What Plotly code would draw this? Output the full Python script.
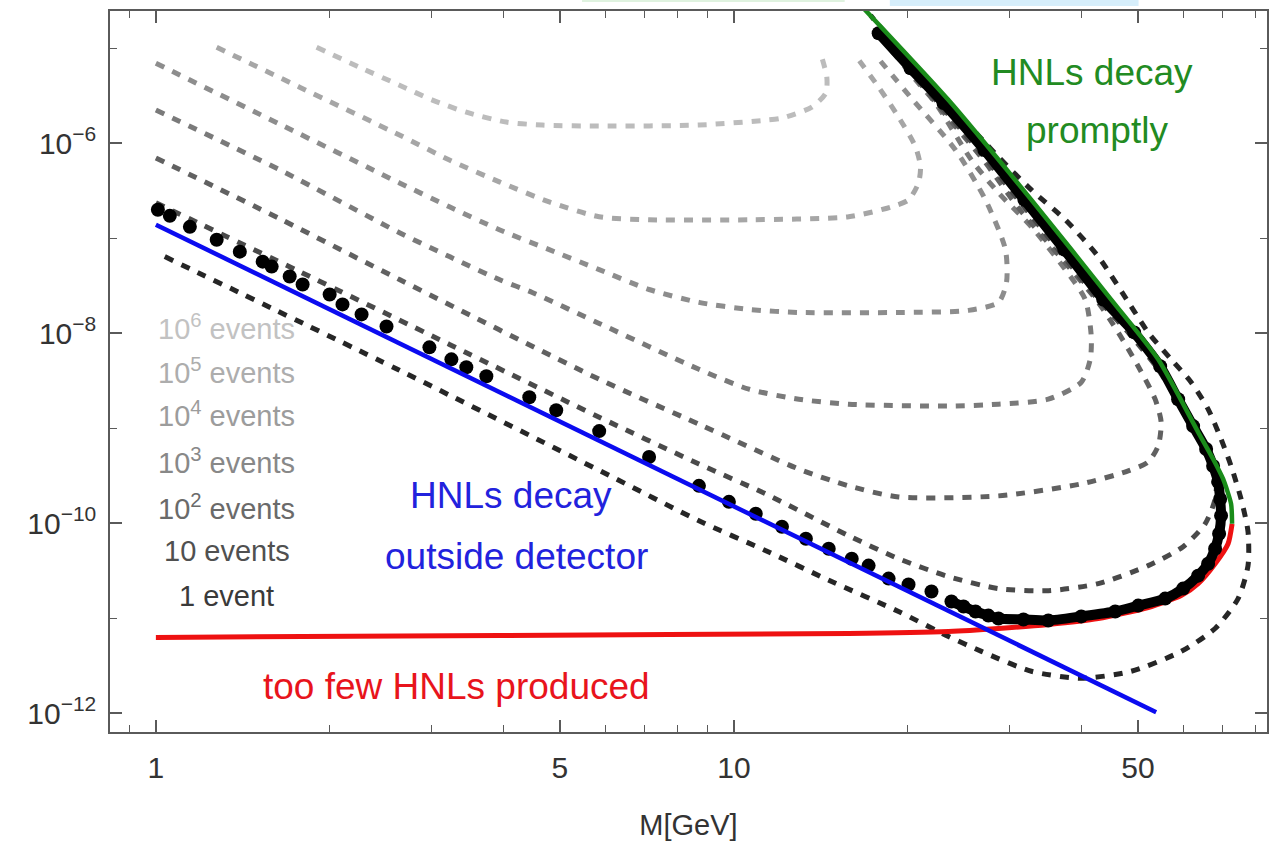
import plotly.graph_objects as go

# ---------------- data (M in GeV, U^2) ----------------
blue_M = [1.0, 53.77]
blue_U2 = [1.38e-7, 1.02e-12]

red_M = [1.0, 3.928, 15.80, 23.51, 28.69, 34.99, 42.69, 52.08, 59.39, 63.55, 68.00, 71.61, 72.76]
red_U2 = [6.25e-12, 6.55e-12, 6.88e-12, 7.22e-12, 7.76e-12, 8.55e-12, 9.88e-12, 1.29e-11,
          1.72e-11, 2.30e-11, 3.73e-11, 6.05e-11, 9.81e-11]

green_M = [72.76, 72.47, 70.20, 67.46, 63.55, 54.20, 44.95, 32.71, 23.51, 16.77]
green_U2 = [9.81e-11, 1.59e-10, 2.91e-10, 4.72e-10, 9.06e-10, 5.28e-9, 2.25e-8, 2.52e-7, 2.83e-6, 2.61e-5]

dots_M = [1.008, 1.057, 1.145, 1.274, 1.397, 1.530, 1.586, 1.704, 1.794, 1.998, 2.103, 2.269, 2.506,
          2.973, 3.245, 3.444, 3.730, 4.426, 4.927, 5.847, 7.133, 8.700, 9.803, 10.91, 12.11, 13.32,
          14.59, 15.99, 17.10, 18.52, 20.05, 21.97, 23.79, 24.96, 26.18, 27.56, 28.69, 31.69, 34.99,
          39.90, 45.67, 50.06, 55.73, 59.87, 63.55, 66.13, 68.00, 69.09, 69.64, 69.37, 68.82, 67.46,
          65.61, 62.30, 58.69, 54.63, 49.26, 43.55, 37.29, 31.81, 27.13, 23.05, 20.21, 17.80]
dots_U2 = [1.98e-7, 1.71e-7, 1.31e-7, 9.60e-8, 7.18e-8, 5.64e-8, 5.00e-8, 3.93e-8, 3.24e-8, 2.54e-8,
           2.00e-8, 1.57e-8, 1.17e-8, 7.06e-9, 5.28e-9, 4.36e-9, 3.50e-9, 2.11e-9, 1.54e-9, 9.28e-10,
           4.95e-10, 2.46e-10, 1.67e-10, 1.25e-10, 9.12e-11, 6.83e-11, 5.36e-11, 4.21e-11, 3.56e-11,
           2.60e-11, 2.25e-11, 1.90e-11, 1.49e-11, 1.32e-11, 1.17e-11, 1.06e-11, 9.88e-12, 9.65e-12,
           9.41e-12, 1.04e-11, 1.17e-11, 1.35e-11, 1.60e-11, 2.04e-11, 2.79e-11, 3.73e-11, 5.36e-11,
           7.70e-11, 1.19e-10, 1.79e-10, 2.71e-10, 3.98e-10, 6.01e-10, 1.047e-9, 2.01e-9, 4.46e-9,
           1.015e-8, 2.25e-8, 7.54e-8, 2.52e-7, 8.44e-7, 2.63e-6, 6.12e-6, 1.43e-5]

# event-number contours
ev1e6_M = [1.897, 2.251, 2.639, 3.009, 3.444, 4.039, 4.661, 5.847, 8.700, 11.36, 12.11, 13.64, 14.42, 14.48, 14.19]
ev1e6_U2 = [1.017e-5, 6.27e-6, 4.06e-6, 2.83e-6, 2.11e-6, 1.66e-6, 1.545e-6, 1.508e-6, 1.545e-6, 1.74e-6,
            1.83e-6, 2.39e-6, 3.35e-6, 4.93e-6, 7.99e-6]

ev1e5_M = [1.274, 1.773, 2.639, 3.220, 3.928, 4.792, 5.847, 7.133, 10.62, 15.80, 18.74, 20.05, 20.86,
           21.03, 20.62, 19.27, 17.80, 16.31]
ev1e5_U2 = [1.017e-5, 3.87e-6, 1.213e-6, 6.63e-7, 3.90e-7, 2.40e-7, 1.673e-7, 1.556e-7, 1.556e-7,
            1.673e-7, 2.13e-7, 2.52e-7, 3.80e-7, 5.60e-7, 9.08e-7, 1.875e-6, 3.87e-6, 7.99e-6]

ev1e4_M = [1.0, 1.638, 2.639, 3.220, 3.928, 4.792, 5.847, 7.133, 8.700, 10.62, 12.95, 19.27, 25.46,
           28.69, 29.62, 29.50, 27.24, 24.17, 20.21, 17.59]
ev1e4_U2 = [6.91e-6, 1.58e-6, 3.80e-7, 2.13e-7, 1.222e-7, 7.54e-8, 4.65e-8, 2.87e-8, 2.10e-8, 1.77e-8,
            1.645e-8, 1.645e-8, 1.73e-8, 2.10e-8, 3.40e-8, 7.54e-8, 2.52e-7, 8.44e-7, 3.04e-6, 8.38e-6]

ev1e3_M = [1.0, 1.638, 2.639, 3.220, 3.928, 4.479, 5.847, 8.700, 10.62, 12.95, 15.80, 23.51, 28.69,
           34.99, 39.90, 41.35, 41.52, 40.54, 37.44, 32.71, 28.69, 25.76, 22.33, 20.86, 18.30]
ev1e3_U2 = [2.22e-6, 5.21e-7, 1.137e-7, 6.37e-8, 3.65e-8, 2.67e-8, 1.261e-8, 4.15e-9, 2.56e-9, 2.01e-9,
            1.78e-9, 1.70e-9, 1.78e-9, 2.01e-9, 3.03e-9, 5.28e-9, 9.21e-9, 2.25e-8, 4.65e-8, 1.314e-7,
            2.99e-7, 6.63e-7, 2.63e-6, 4.26e-6, 1.12e-5]

ev1e2_M = [1.0, 1.638, 2.639, 5.847, 8.700, 12.95, 15.80, 19.27, 28.69, 39.90, 48.10, 52.08, 54.20,
           54.85, 53.55, 50.05, 46.22, 42.69, 36.41, 31.06, 27.02, 23.05, 18.74]
ev1e2_U2 = [6.96e-7, 1.594e-7, 3.65e-8, 3.26e-9, 1.099e-9, 3.70e-10, 2.46e-10, 1.88e-10, 1.93e-10,
            2.58e-10, 3.53e-10, 4.39e-10, 6.46e-10, 1.153e-9, 2.01e-9, 4.46e-9, 1.015e-8, 2.10e-8,
            6.68e-8, 2.08e-7, 6.63e-7, 2.11e-6, 9.93e-6]

ev10_M = [1.0, 1.773, 3.220, 5.847, 8.700, 11.36, 15.80, 19.27, 23.51, 28.69, 34.99, 42.69, 52.08,
          59.87, 65.35, 68.00, 68.27, 64.83, 61.07, 54.20, 48.10, 42.69, 36.41, 31.06, 26.49, 22.59, 18.16]
ev10_U2 = [2.35e-7, 4.43e-8, 7.59e-9, 1.30e-9, 4.18e-10, 2.02e-10, 7.34e-11, 4.21e-11, 2.73e-11,
           2.04e-11, 1.94e-11, 2.30e-11, 3.56e-11, 5.63e-11, 9.81e-11, 1.79e-10, 3.70e-10, 6.78e-10,
           1.24e-9, 4.15e-9, 1.015e-8, 2.25e-8, 7.54e-8, 2.52e-7, 8.44e-7, 2.63e-6, 1.264e-5]

ev1_M = [1.036, 2.639, 6.255, 8.700, 11.36, 14.76, 19.27, 23.51, 26.81, 32.71, 39.90, 48.68, 59.39,
         68.00, 74.52, 77.53, 77.53, 75.41, 72.47, 69.64, 66.13, 61.81, 57.08, 52.08, 48.68, 42.69,
         37.44, 32.71, 28.69, 23.51, 19.27, 17.24]
ev1_U2 = [6.37e-8, 4.05e-9, 2.91e-10, 1.054e-10, 5.11e-11, 2.42e-11, 1.17e-11, 6.39e-12, 4.45e-12,
          2.75e-12, 2.32e-12, 2.75e-12, 4.45e-12, 7.76e-12, 1.60e-11, 3.56e-11, 8.09e-11, 1.79e-10,
          3.98e-10, 7.65e-10, 1.58e-9, 3.03e-9, 5.28e-9, 1.015e-8, 1.90e-8, 6.37e-8, 1.556e-7, 3.21e-7,
          7.13e-7, 2.63e-6, 9.93e-6, 2.20e-5]

event_labels = ["10<sup>6</sup> events", "10<sup>5</sup> events", "10<sup>4</sup> events",
                "10<sup>3</sup> events", "10<sup>2</sup> events", "10 events", "1 event"]

x_tick_vals = [1, 5, 10, 50]
x_tick_text = ["1", "5", "10", "50"]
x_minor_vals = [0.9, 2, 3, 4, 6, 7, 8, 9, 20, 30, 40, 60, 70, 80]
y_tick_vals = [1e-12, 1e-10, 1e-8, 1e-6]
y_tick_text = ["10<sup>\u221212</sup>", "10<sup>\u221210</sup>", "10<sup>\u22128</sup>", "10<sup>\u22126</sup>"]
y_minor_vals = [1e-11, 1e-9, 1e-7, 1e-5]

# ---------------- styling ----------------
FONT = "Liberation Sans, Arial, Helvetica, sans-serif"
line_colors = ["#bcbcbc", "#a6a6a6", "#8d8d8d", "#7a7a7a", "#616161", "#4a4a4a", "#262626"]
label_colors = ["#c2c2c2", "#adadad", "#9c9c9c", "#888888", "#6a6a6a", "#505050", "#3a3a3a"]
DASH = "9px,9px"

fig = go.Figure()

contours = [(ev1e6_M, ev1e6_U2), (ev1e5_M, ev1e5_U2), (ev1e4_M, ev1e4_U2), (ev1e3_M, ev1e3_U2),
            (ev1e2_M, ev1e2_U2), (ev10_M, ev10_U2), (ev1_M, ev1_U2)]
for (mx, uy), col in zip(contours, line_colors):
    fig.add_trace(go.Scatter(x=mx, y=uy, mode="lines",
                             line=dict(color=col, width=5, dash=DASH, shape="spline", smoothing=0.7),
                             hoverinfo="skip"))

fig.add_trace(go.Scatter(x=red_M, y=red_U2, mode="lines",
                         line=dict(color="#ee1111", width=5, shape="spline", smoothing=0.6)))

dense = 32
fig.add_trace(go.Scatter(x=dots_M[dense:], y=dots_U2[dense:], mode="lines",
                         line=dict(color="black", width=10, shape="spline", smoothing=0.6)))
fig.add_trace(go.Scatter(x=dots_M, y=dots_U2, mode="markers",
                         marker=dict(color="black", size=14)))

fig.add_trace(go.Scatter(x=blue_M, y=blue_U2, mode="lines",
                         line=dict(color="#0b0bf0", width=4.5)))
fig.add_trace(go.Scatter(x=green_M, y=green_U2, mode="lines",
                         line=dict(color="#1a8c1a", width=4.5, shape="spline", smoothing=0.6)))

# event labels (positions in log10 units)
label_y = [-7.941, -8.403, -8.854, -9.347, -9.830, -10.292, -10.764]
for txt, col, ly in zip(event_labels, label_colors, label_y):
    fig.add_annotation(x=0.1226, y=ly, xref="x", yref="y", text=txt, showarrow=False,
                       font=dict(family=FONT, size=29, color=col), xanchor="center", yanchor="middle")

ANN = 37
fig.add_annotation(x=0.6149, y=-9.715, text="HNLs decay", showarrow=False,
                   font=dict(family=FONT, size=ANN, color="#2222dd"))
fig.add_annotation(x=0.6235, y=-10.355, text="outside detector", showarrow=False,
                   font=dict(family=FONT, size=ANN, color="#2222dd"))
fig.add_annotation(x=1.6200, y=-5.255, text="HNLs decay", showarrow=False,
                   font=dict(family=FONT, size=ANN, color="#228b22"))
fig.add_annotation(x=1.6287, y=-5.864, text="promptly", showarrow=False,
                   font=dict(family=FONT, size=ANN, color="#228b22"))
fig.add_annotation(x=0.5207, y=-11.719, text="too few HNLs produced", showarrow=False,
                   font=dict(family=FONT, size=ANN, color="#e8141c"))

# small UI remnants at the very top of the screenshot
fig.add_shape(type="rect", xref="paper", yref="paper", x0=0.408, x1=0.635, y0=1.0125, y1=1.04,
              fillcolor="#dff2df", line=dict(width=0), layer="below")
fig.add_shape(type="rect", xref="paper", yref="paper", x0=0.674, x1=0.889, y0=1.007, y1=1.04,
              fillcolor="#d6eefb", line=dict(width=0), layer="below")

axis_common = dict(showline=True, linecolor="#5a5a5a", linewidth=1.5, mirror="ticks",
                   ticks="inside", ticklen=12, tickwidth=1.5, tickcolor="#5a5a5a",
                   showgrid=False, zeroline=False,
                   tickfont=dict(family=FONT, size=30, color="#333333"))

fig.update_xaxes(type="log", range=[-0.0794, 1.9223], tickmode="array",
                 tickvals=x_tick_vals, ticktext=x_tick_text,
                 minor=dict(tickvals=x_minor_vals, ticks="inside", ticklen=7, tickwidth=1.2,
                            tickcolor="#5a5a5a", showgrid=False),
                 title=dict(text="M[GeV]", font=dict(family=FONT, size=29, color="#333333"), standoff=32),
                 ticklabelstandoff=8, **axis_common)
fig.update_yaxes(type="log", range=[-12.2, -4.6105], tickmode="array",
                 tickvals=y_tick_vals, ticktext=y_tick_text,
                 minor=dict(tickvals=y_minor_vals, ticks="inside", ticklen=7, tickwidth=1.2,
                            tickcolor="#5a5a5a", showgrid=False),
                 ticklabelstandoff=6, **axis_common)

fig.update_layout(width=1269, height=851, margin=dict(l=110, r=0, t=11, b=119),
                  plot_bgcolor="white", paper_bgcolor="white", showlegend=False,
                  font=dict(family=FONT))

fig.write_html("out.html")
